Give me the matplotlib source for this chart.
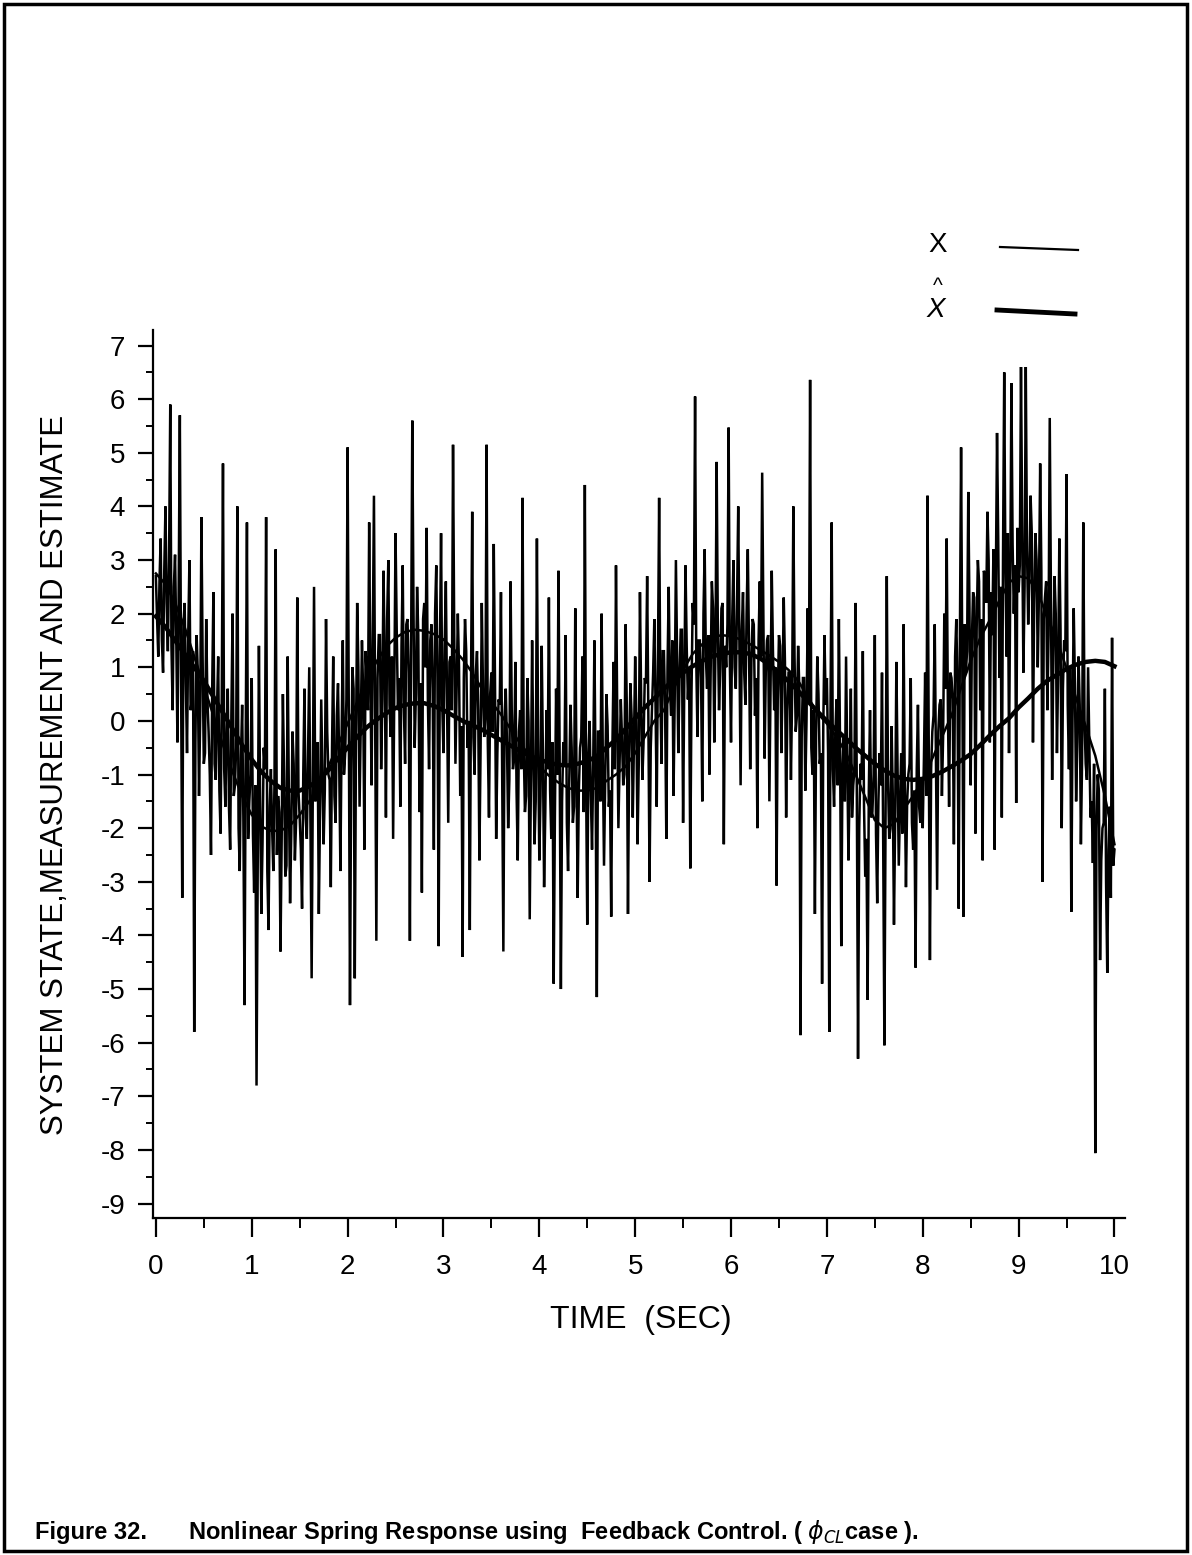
import matplotlib
matplotlib.use('Agg')
import matplotlib.pyplot as plt
from matplotlib import font_manager
from matplotlib.lines import Line2D
from matplotlib.patches import Rectangle
from matplotlib.ticker import MultipleLocator
import numpy as np

plt.rcParams['axes.unicode_minus'] = False

# ---------------- data ----------------
state_t = [0.0, 0.1, 0.2, 0.3, 0.4, 0.5, 0.6, 0.7, 0.8, 0.9,
           1.0, 1.1, 1.2, 1.3, 1.4, 1.5, 1.6, 1.7, 1.8, 1.9,
           2.0, 2.1, 2.2, 2.3, 2.4, 2.5, 2.6, 2.7, 2.8, 2.9,
           3.0, 3.1, 3.2, 3.3, 3.4, 3.5, 3.6, 3.7, 3.8, 3.9,
           4.0, 4.1, 4.2, 4.3, 4.4, 4.5, 4.6, 4.7, 4.8, 4.9,
           5.0, 5.1, 5.2, 5.3, 5.4, 5.5, 5.6, 5.7, 5.8, 5.9,
           6.0, 6.1, 6.2, 6.3, 6.4, 6.5, 6.6, 6.7, 6.8, 6.9,
           7.0, 7.1, 7.2, 7.3, 7.4, 7.5, 7.6, 7.7, 7.8, 7.9,
           8.0, 8.1, 8.2, 8.3, 8.4, 8.5, 8.6, 8.7, 8.8, 8.9,
           9.0, 9.1, 9.2, 9.3, 9.4, 9.5, 9.6, 9.7, 9.8, 9.9, 10.0]
state_x = [2.75, 2.55, 2.2, 1.75, 1.2, 0.65, 0.1, -0.45, -0.95, -1.4,
           -1.75, -1.97, -2.05, -2.05, -1.95, -1.75, -1.5, -1.2, -0.85, -0.45,
           -0.05, 0.35, 0.75, 1.1, 1.38, 1.55, 1.66, 1.7, 1.68, 1.62,
           1.52, 1.35, 1.15, 0.9, 0.6, 0.35, 0.12, -0.15, -0.42, -0.65,
           -0.85, -1.02, -1.15, -1.25, -1.3, -1.3, -1.25, -1.12, -1.0, -0.85,
           -0.6, -0.3, 0.0, 0.2, 0.6, 0.95, 1.25, 1.43, 1.55, 1.6,
           1.58, 1.52, 1.43, 1.33, 1.22, 1.1, 0.95, 0.75, 0.45, 0.15,
           -0.05, -0.3, -0.6, -1.0, -1.42, -1.85, -2.0, -1.92, -1.65, -1.4,
           -1.1, -0.7, -0.3, 0.1, 0.62, 1.12, 1.55, 1.88, 2.25, 2.58,
           2.7, 2.66, 2.4, 1.94, 1.5, 0.98, 0.42, -0.1, -0.65, -1.4, -2.3]

est_t = state_t
est_x = [1.95, 1.75, 1.5, 1.25, 1.0, 0.75, 0.45, 0.15, -0.15, -0.45,
         -0.72, -0.95, -1.12, -1.25, -1.3, -1.3, -1.22, -1.1, -0.92, -0.7,
         -0.5, -0.3, -0.12, 0.02, 0.14, 0.24, 0.3, 0.33, 0.33, 0.28,
         0.2, 0.1, 0.0, -0.08, -0.16, -0.26, -0.36, -0.46, -0.56, -0.65,
         -0.72, -0.78, -0.82, -0.83, -0.8, -0.75, -0.66, -0.5, -0.35, -0.15,
         0.05, 0.25, 0.42, 0.6, 0.76, 0.9, 1.02, 1.12, 1.2, 1.25,
         1.28, 1.28, 1.25, 1.17, 1.05, 0.9, 0.74, 0.56, 0.37, 0.18,
         0.0, -0.17, -0.33, -0.5, -0.65, -0.8, -0.92, -1.02, -1.08, -1.1,
         -1.08, -1.03, -0.95, -0.85, -0.74, -0.62, -0.45, -0.27, -0.1, 0.05,
         0.25, 0.42, 0.6, 0.75, 0.86, 0.97, 1.05, 1.1, 1.12, 1.1, 1.02]

# measurement: spike values (even samples) and in-between values (odd samples)
meas_dt = 0.0125
meas_s0 = [2.7, 1.2, 3.4, 0.9, 4.0, 1.3, 5.9, 0.2, 3.1, -0.4,
           5.7, -3.3, 2.2, -0.6, 3.0, 0.4, -5.8, 1.6, -1.4, 3.8,
           -0.8, 1.9, -0.2, -2.5, 2.4, -1.1, 1.2, -2.1, 4.8, -1.6,
           0.6, -2.4, 2.0, -1.2, 4.0, -2.8, 0.3, -5.3, 3.7, -1.5]
meas_s1 = [0.8, -3.2, -6.8, 1.4, -3.6, -0.5, 3.8, -3.9, -0.9, -2.8,
           3.2, -1.4, -4.3, 0.5, -2.9, 1.2, -3.4, -0.2, -2.6, 2.3,
           -1.8, -3.5, 0.6, -2.2, 1.0, -4.8, 2.5, -1.3, -3.6, 0.4,
           -2.3, 1.9, -1.0, -3.1, 1.2, -1.9, 0.7, -2.8, 1.5, -0.6]
meas_s2 = [5.1, -5.3, 1.0, -4.8, 2.2, -1.6, 1.5, -2.4, 0.8, 3.7,
           -1.2, 4.2, -4.1, 1.6, -0.9, 2.8, -1.8, 3.0, -0.3, -2.2,
           3.5, 0.2, -1.6, 2.9, -0.8, 1.9, -4.1, 5.6, -0.5, 2.5,
           -1.7, -3.2, 2.2, 3.6, -0.9, 1.8, -2.4, 2.9, -4.2, 3.5]
meas_s3 = [-0.6, 2.6, -1.9, 1.2, 5.15, -0.8, 2.0, -1.4, -4.4, 1.9,
           -0.5, -3.9, 3.9, -1.0, 1.3, -2.6, 2.2, -0.3, 5.15, -1.8,
           0.9, 3.3, -2.2, 0.4, 2.4, -4.3, 0.6, -2.0, 2.6, -0.9,
           1.1, -2.6, 0.2, 4.16, -1.7, 0.8, -3.7, 1.5, -2.3, 3.4]
meas_s4 = [-2.6, 1.4, -3.1, 0.2, 2.3, -2.2, -4.9, 0.6, 2.8, -5.0,
           -0.4, 1.6, -2.8, 0.3, -1.9, 2.1, -3.3, -0.5, 1.2, 4.4,
           -3.8, 0.0, -2.4, 1.5, -5.15, -0.2, 2.0, -2.7, 0.5, -1.6,
           -3.65, 1.1, 2.9, -2.0, 0.4, -1.2, 1.8, -3.6, 0.7, -1.8]
meas_s5 = [1.2, -2.3, 2.4, -1.1, 0.8, 2.7, -3.0, 0.2, 1.9, -1.6,
           4.16, -0.8, 1.3, -2.2, 2.5, 0.1, -1.4, 3.0, -0.6, 1.7,
           -1.9, 2.9, 0.4, -2.75, 2.2, 6.05, -0.3, 1.5, -1.5, 3.2,
           0.6, -1.0, 2.6, -0.4, 4.83, 0.2, 2.1, -2.3, 1.0, 5.47]
meas_s6 = [-0.4, 3.0, 0.6, 4.0, -1.2, 2.4, 0.3, 3.2, -0.9, 1.9,
           0.1, -2.0, 2.6, 4.63, -0.7, 1.5, -1.5, 2.8, 0.2, -3.07,
           1.6, -0.6, 2.3, -1.8, 0.9, -1.1, 4.0, -0.2, 1.4, -5.86,
           0.8, -1.3, 2.1, 6.36, -1.0, -3.6, 1.2, -0.8, -4.9, 1.6]
meas_s7 = [0.8, -5.8, 3.7, -1.6, 0.4, 1.9, -4.2, -0.3, 1.2, -2.6,
           0.6, -1.2, 2.2, -6.3, -0.8, 1.3, -2.9, -5.2, 0.2, -1.7,
           1.6, -3.4, -0.6, 0.9, -6.05, 2.7, -2.2, -0.1, -3.8, 1.1,
           -2.7, -0.6, 1.8, -3.1, -1.0, 0.8, -2.4, -4.6, 0.3, -1.9]
meas_s8 = [-2.0, 0.9, 4.2, -4.46, -0.2, 1.8, -3.15, 0.3, -1.4, 2.0,
           3.4, -1.6, 0.8, -2.3, 1.9, -3.5, 5.1, -3.65, 0.9, 4.27,
           -1.2, 2.4, -2.1, 3.0, 0.2, -2.6, 2.7, 3.9, -0.4, 1.6,
           -2.4, 5.37, 0.8, -1.8, 6.5, 1.2, -0.6, 6.3, 2.0, -1.53]
meas_s9 = [2.4, 6.6, 0.9, 6.6, 1.8, 4.2, -0.4, 3.5, 1.0, 4.8,
           -3.0, 2.3, 0.2, 5.65, -1.1, 2.7, -0.6, 3.4, -2.0, 1.5,
           4.6, -0.9, -3.56, 2.1, -1.5, 1.2, -2.3, 3.7, -0.8, 1.0,
           -1.8, -2.65, -8.06, -1.0, -4.46, -2.0, 0.6, -4.7, -1.6, 1.55, -2.4]

meas_m0 = [1.9, 2.6, 1.5, 2.8, 2.2, 3.0, 1.4, 2.5, 1.6, 2.3,
           0.9, 1.8, 0.7, 1.6, 0.2, 1.3, -0.4, 0.9, 0.1, 1.2,
           -0.6, 0.4, -1.0, 0.6, -0.8, 0.2, -1.3, 0.5, -0.9, -0.2,
           -1.6, 0.1, -1.4, -0.5, -2.0, -0.7, -1.8, -0.3, -2.2, -1.0]
meas_m1 = [-2.1, -1.2, -2.6, -1.5, -2.3, -0.9, -2.8, -1.6, -2.0, -1.1,
           -2.5, -1.7, -2.2, -1.0, -2.7, -1.4, -2.1, -0.8, -1.9, -1.3,
           -2.4, -1.0, -1.8, -0.6, -2.0, -1.2, -1.5, -0.4, -1.7, -0.9,
           -1.3, -0.2, -1.1, -0.5, -1.4, 0.1, -0.8, -0.3, -1.0, 0.4]
meas_m2 = [0.2, -0.9, 0.6, -0.4, 1.0, -0.1, 0.5, 1.3, 0.2, 0.9,
           1.5, 0.1, 0.8, 1.6, 0.4, 1.1, 1.9, 0.3, 1.2, 0.6,
           1.7, 0.8, 1.4, 0.2, 1.8, 0.9, 1.3, 2.1, 0.5, 1.6,
           0.7, 1.9, 1.0, 0.4, 1.5, 0.6, 2.0, 0.8, 1.2, 0.3]
meas_m3 = [1.4, 0.4, 1.1, 0.2, 1.6, 0.6, 1.0, -0.1, 0.8, 1.3,
           0.0, 0.7, -0.3, 0.9, 0.2, -0.5, 0.6, 0.1, -0.4, 0.5,
           -0.2, 0.8, -0.6, 0.3, -0.9, 0.1, -0.4, -1.1, 0.2, -0.7,
           -1.3, -0.2, -0.9, -0.5, -1.4, 0.0, -1.1, -0.6, -1.5, -0.3]
meas_m4 = [-1.4, -0.6, -1.7, -0.9, -1.3, -0.4, -1.8, -1.0, -0.7, -1.5,
           -0.8, -1.9, -1.1, -0.5, -1.6, -0.9, -1.3, -0.3, -1.7, -1.0,
           -0.6, -1.4, -0.8, -1.2, -0.2, -1.5, -0.7, -1.1, -0.1, -1.3,
           -0.5, -0.9, 0.2, -0.8, -0.3, -1.0, 0.3, -0.6, 0.1, -0.4]
meas_m5 = [0.0, -0.8, 0.4, -0.4, 0.7, 0.1, -0.5, 0.9, 0.3, 1.1,
           0.5, 1.3, 0.2, 1.0, 0.6, 1.5, 0.4, 1.2, 0.8, 1.7,
           0.7, 1.4, 1.0, 0.5, 1.8, 1.1, 1.5, 0.8, 2.0, 1.2,
           1.6, 0.9, 2.1, 1.3, 1.7, 1.0, 2.2, 1.4, 1.8, 1.1]
meas_m6 = [1.9, 1.0, 2.2, 1.3, 1.7, 0.9, 2.0, 1.4, 1.1, 1.8,
           0.8, 1.5, 1.2, 2.0, 0.9, 1.6, 0.6, 1.3, 1.0, 0.4,
           1.4, 0.7, 1.1, 0.2, 0.9, 0.5, 1.2, 0.1, 0.6, -0.3,
           0.8, 0.0, 0.4, -0.5, 0.2, -0.2, 0.5, -0.6, -0.1, 0.3]
meas_m7 = [-0.6, 0.1, -0.9, -0.3, -1.2, -0.5, -0.9, -1.5, -0.7, -1.1,
           -1.8, -0.9, -1.4, -2.0, -1.1, -1.6, -2.2, -1.3, -1.8, -1.0,
           -2.1, -1.5, -1.2, -2.3, -1.7, -1.1, -2.0, -1.4, -1.8, -0.9,
           -1.6, -2.1, -1.2, -1.5, -0.8, -1.9, -1.3, -0.9, -1.6, -1.1]
meas_m8 = [-0.7, -1.4, -0.4, -0.9, 0.1, -0.6, -0.2, 0.4, -0.3, 0.6,
           0.2, 0.9, 0.4, 1.2, 0.7, 1.5, 1.0, 1.8, 1.3, 2.1,
           1.5, 2.3, 1.7, 2.6, 1.9, 2.8, 2.2, 3.0, 2.4, 3.2,
           2.6, 3.4, 2.5, 3.1, 2.8, 3.5, 2.4, 3.3, 2.9, 3.6]
meas_m9 = [2.9, 3.6, 2.5, 3.2, 2.7, 3.5, 2.2, 3.0, 2.4, 2.8,
           1.9, 2.6, 1.6, 2.3, 1.2, 2.0, 0.9, 1.7, 0.6, 1.3,
           0.3, 1.0, 0.0, 0.7, -0.4, 0.3, -0.7, 0.0, -1.1, -0.4,
           -1.5, -0.8, -2.0, -1.3, -2.6, -1.9, -3.0, -2.4, -3.3, -2.7]

x_major = list(range(0, 11))
y_major = list(range(-9, 8))
x_label = "TIME  (SEC)"
y_label = "SYSTEM STATE,MEASUREMENT AND ESTIMATE"
caption_a = "Figure 32."
caption_b = "Nonlinear Spring Response using  Feedback Control. ( $\\phi_{CL}$case )."

# ---------------- fonts ----------------
avail = {f.name for f in font_manager.fontManager.ttflist}
plot_font = [f for f in ["Liberation Sans Narrow", "Liberation Sans", "DejaVu Sans"] if f in avail]
cap_font = [f for f in ["Liberation Sans", "DejaVu Sans"] if f in avail]

# ---------------- figure ----------------
W, H = 1192, 1555
fig = plt.figure(figsize=(W / 100, H / 100), dpi=100)
fig.patch.set_facecolor('white')

def fx(px):
    return px / W

def fy(py):
    return 1 - py / H

ax = fig.add_axes([fx(153), fy(1218), (1125 - 153) / W, (1218 - 330) / H])

spikes = meas_s0 + meas_s1 + meas_s2 + meas_s3 + meas_s4 + meas_s5 + meas_s6 + meas_s7 + meas_s8 + meas_s9[:-1]
mids = meas_m0 + meas_m1 + meas_m2 + meas_m3 + meas_m4 + meas_m5 + meas_m6 + meas_m7 + meas_m8 + meas_m9
meas = np.empty(2 * len(spikes) + 1)
meas[0:-1:2] = spikes
meas[1::2] = mids
meas[-1] = meas_s9[-1]
meas_t = np.arange(len(meas)) * meas_dt

ax.plot(meas_t, meas, color='black', lw=1.8, solid_joinstyle='miter')
ax.plot(state_t, state_x, color='black', lw=1.8)
ax.plot(est_t, est_x, color='black', lw=3.2)

ax.set_xlim(-0.03, 10.11)
ax.set_ylim(-9.27, 7.29)

ax.set_xticks(x_major)
ax.set_yticks(y_major)
ax.xaxis.set_minor_locator(MultipleLocator(0.5))
ax.yaxis.set_minor_locator(MultipleLocator(0.5))
ax.tick_params(axis='both', which='major', direction='out', length=11, width=1.6, labelsize=20)
ax.tick_params(axis='both', which='minor', direction='out', length=5, width=1.4)
ax.tick_params(axis='y', which='major', pad=9)
ax.tick_params(axis='x', which='major', pad=12, length=14)
ax.tick_params(axis='x', which='minor', length=7)
for lab in ax.get_xticklabels() + ax.get_yticklabels():
    lab.set_family(plot_font)

for s in ['top', 'right']:
    ax.spines[s].set_visible(False)
for s in ['left', 'bottom']:
    ax.spines[s].set_linewidth(1.6)

fig.text(fx(641), fy(1320), x_label, ha='center', va='center', fontsize=23, family=plot_font)
fig.text(fx(55), fy(775), y_label, ha='center', va='center', rotation=90, fontsize=22.5, family=plot_font)

# legend (drawn in figure coordinates, above the axes)
fig.text(fx(938), fy(245), "X", ha='center', va='center', fontsize=20, family=plot_font)
fig.add_artist(Line2D([fx(1000), fx(1078)], [fy(247), fy(250)], transform=fig.transFigure, color='black', lw=1.6))
fig.text(fx(938), fy(296), "^", ha='center', va='bottom', fontsize=15, family=plot_font)
fig.text(fx(936), fy(297), "X", ha='center', va='top', fontsize=20, family=plot_font, style='italic')
fig.add_artist(Line2D([fx(997), fx(1075)], [fy(310), fy(314)], transform=fig.transFigure, color='black', lw=3.5))

# page frame
fig.add_artist(Rectangle((fx(4), fy(1551)), (1187 - 4) / W, (1551 - 4) / H, transform=fig.transFigure,
                         fill=False, lw=2.5, edgecolor='black'))

# caption
fig.text(fx(35), fy(1532), caption_a, ha='left', va='center', fontsize=17, fontweight='bold', family=cap_font)
fig.text(fx(188), fy(1532), caption_b, ha='left', va='center', fontsize=17, fontweight='bold', family=cap_font)

fig.savefig('out.png', dpi=100, facecolor='white')
